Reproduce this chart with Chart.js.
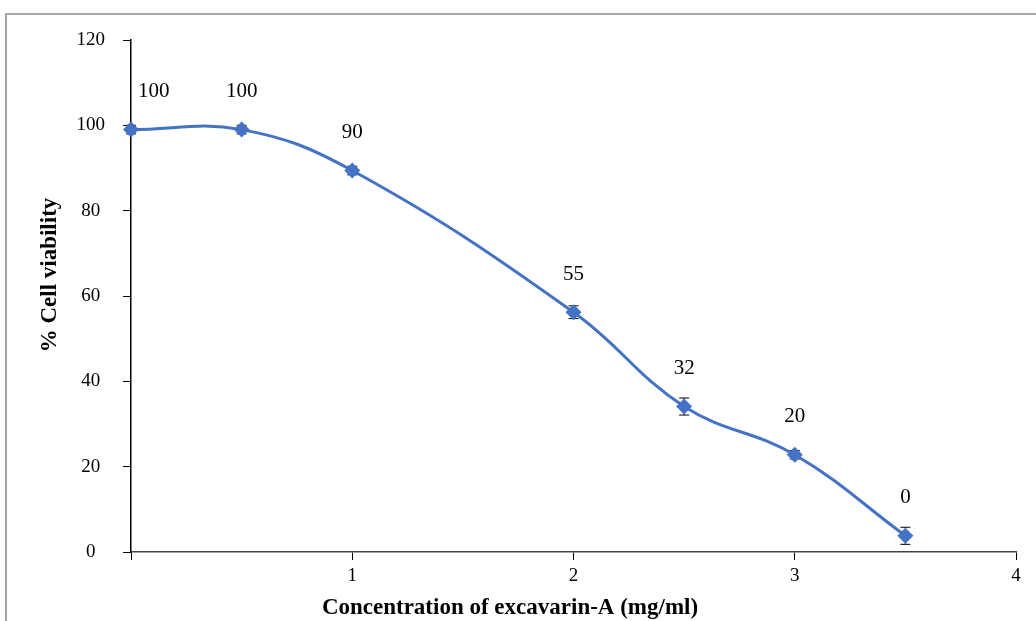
<!DOCTYPE html>
<html>
<head>
<meta charset="utf-8">
<script src="https://cdn.jsdelivr.net/npm/chart.js@4/dist/chart.umd.min.js"></script>
<style>
  body { margin: 0; background: #fff; overflow: hidden; }
  #wrap { position: absolute; left: 0; top: 0; width: 1036px; height: 621px; }
  #frame { position: absolute; left: 5px; top: 13px; right: -2px; bottom: -2px; border-left: 2px solid #a6a6a6; border-top: 2px solid #a6a6a6; }
  canvas { position: absolute; left: 0; top: 0; }
</style>
</head>
<body>
<div id="wrap">
  <div id="frame"></div>
  <canvas id="line-chart" width="1036" height="621"></canvas>
</div>
<script>
// concentration (mg/ml) and viability values
var concentrations = [0, 0.5, 1, 2, 2.5, 3, 3.5];
var viability = [99, 99, 89.4, 56.2, 34.1, 22.8, 3.8];
var errors = [1, 1, 1, 1.5, 2, 1, 2];
var pointLabels = ['100', '100', '90', '55', '32', '20', '0'];
var yTicks = [0, 20, 40, 60, 80, 100, 120];
var xTicks = [0, 1, 2, 3, 4];
var xTitle = 'Concentration of excavarin-A (mg/ml)';
var yTitle = '% Cell viability';

var serif = "'Liberation Serif', 'Times New Roman', serif";

// error bars (behind the markers), value labels and axis titles
var extras = {
    id: 'extras',
    beforeDatasetsDraw: function(chart) {
        var c = chart.ctx;
        var xs = chart.scales.x, ys = chart.scales.y;
        c.save();
        c.strokeStyle = '#000';
        c.lineWidth = 1;
        for (var i = 0; i < viability.length; i++) {
            var px = xs.getPixelForValue(concentrations[i]);
            var top = ys.getPixelForValue(viability[i] + errors[i]);
            var bot = ys.getPixelForValue(viability[i] - errors[i]);
            c.beginPath();
            c.moveTo(px, top); c.lineTo(px, bot);
            c.moveTo(px - 5, top); c.lineTo(px + 5, top);
            c.moveTo(px - 5, bot); c.lineTo(px + 5, bot);
            c.stroke();
        }
        c.restore();
    },
    afterDatasetsDraw: function(chart) {
        var c = chart.ctx;
        var xs = chart.scales.x, ys = chart.scales.y;
        c.save();
        c.fillStyle = '#000';
        c.font = '21px ' + serif;
        c.textBaseline = 'middle';
        for (var j = 0; j < viability.length; j++) {
            var x = xs.getPixelForValue(concentrations[j]);
            var y = ys.getPixelForValue(viability[j]) - 38;
            if (j == 0) {
                c.textAlign = 'left';
                c.fillText(pointLabels[j], x + 7, y);
            } else {
                c.textAlign = 'center';
                c.fillText(pointLabels[j], x, y);
            }
        }
        // axis titles
        c.font = 'bold 23px ' + serif;
        c.textAlign = 'center';
        c.fillText(xTitle, 510, 608);
        c.translate(50, 275);
        c.rotate(-Math.PI / 2);
        c.fillText(yTitle, 0, 0);
        c.restore();
    }
};

var ctx = document.getElementById('line-chart');
var chartGraph = new Chart(ctx, {
    type: 'line',
    data: {
        datasets: [{
            data: concentrations.map(function(x, i) { return { x: x, y: viability[i] }; }),
            borderColor: '#4472C4',
            backgroundColor: '#4472C4',
            borderWidth: 3,
            tension: 0.4,
            pointStyle: 'rectRot',
            pointRadius: 8,
            pointBorderWidth: 0,
            clip: false
        }]
    },
    options: {
        responsive: false,
        animation: false,
        devicePixelRatio: 1,
        layout: { padding: { top: 40, right: 20, left: 36, bottom: 0 } },
        plugins: {
            legend: { display: false },
            tooltip: { enabled: false }
        },
        scales: {
            x: {
                type: 'linear',
                min: 0,
                max: 4,
                afterBuildTicks: function(scale) {
                    scale.ticks = xTicks.map(function(v) { return { value: v }; });
                },
                afterFit: function(scale) { scale.height = 69; },
                ticks: {
                    color: '#000',
                    font: { family: serif, size: 19 },
                    padding: 5,
                    maxRotation: 0,
                    callback: function(value) { return value === 0 ? '' : value; }
                },
                grid: { drawOnChartArea: false, drawTicks: true, tickLength: 8, color: '#000' },
                border: { display: true, color: '#444', width: 1.5 }
            },
            y: {
                min: 0,
                max: 120,
                afterBuildTicks: function(scale) {
                    scale.ticks = yTicks.map(function(v) { return { value: v }; });
                },
                afterFit: function(scale) { scale.width = 95; },
                ticks: {
                    color: '#000',
                    font: { family: serif, size: 19 },
                    crossAlign: 'center',
                    padding: 18
                },
                grid: { drawOnChartArea: false, drawTicks: true, tickLength: 8, color: '#000' },
                border: { display: true, color: '#000', width: 1.5 }
            }
        }
    },
    plugins: [extras]
});
</script>
</body>
</html>
